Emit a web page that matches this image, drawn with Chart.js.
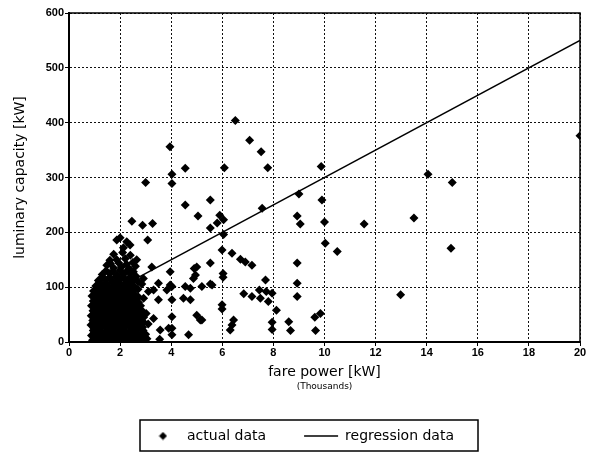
<!DOCTYPE html>
<html><head><meta charset="utf-8">
<script src="https://cdn.jsdelivr.net/npm/chart.js@4.4.0/dist/chart.umd.min.js"></script>
<style>html,body{margin:0;padding:0;background:#fff;} canvas{display:block;}</style>
</head><body>
<canvas id="c" width="596" height="453"></canvas>
<script>
// ---- data ----
const xTicks = [0, 2, 4, 6, 8, 10, 12, 14, 16, 18, 20];
const yTicks = [0, 100, 200, 300, 400, 500, 600];
const xTitle = 'fare power [kW]';
const xSubTitle = '(Thousands)';
const yTitle = 'luminary capacity [kW]';
const seriesNames = ['actual data', 'regression data'];

// dense cluster (fare power in thousands kW, capacity kW)
const clusterPoints = [
  [0.92,3],[1.15,5],[1.38,2],[1.62,4],[1.85,3],[2.1,5],[2.33,2],[2.58,4],[2.82,3],[3.05,6],[3.55,5],
  [1.03,8],[1.27,7],[1.5,9],[1.74,8],[1.97,7],[2.22,9],[2.45,8],[2.7,7],[2.95,9],
  [0.88,12],[1.1,14],[1.33,11],[1.57,13],[1.8,12],[2.03,14],[2.27,11],[2.52,13],[2.76,12],[3.0,14],
  [0.99,17],[1.22,16],[1.46,18],[1.7,17],[1.93,16],[2.17,18],[2.41,17],[2.65,16],[2.88,18],
  [0.95,21],[1.2,22],[1.44,20],[1.68,23],[1.92,21],[2.16,22],[2.4,20],[2.64,23],[2.9,21],
  [0.97,26],[1.21,25],[1.45,27],[1.69,26],[1.93,25],[2.17,27],[2.41,26],[2.64,25],[2.88,27],
  [0.86,31],[1.08,30],[1.3,32],[1.54,30],[1.78,31],[2.02,29],[2.26,32],[2.5,30],[2.74,31],[3.1,33],
  [0.98,35],[1.22,34],[1.46,36],[1.7,35],[1.94,34],[2.18,36],[2.42,35],[2.66,34],[2.92,36],
  [0.93,39],[1.16,40],[1.4,38],[1.64,41],[1.88,39],[2.12,40],[2.36,38],[2.6,41],[2.84,39],
  [0.98,44],[1.22,43],[1.46,45],[1.7,44],[1.94,43],[2.18,45],[2.42,44],[2.66,43],[2.92,45],
  [0.87,48],[1.1,49],[1.34,47],[1.58,50],[1.82,48],[2.06,49],[2.3,47],[2.55,50],[2.78,48],[3.02,52],
  [1.0,53],[1.24,52],[1.48,54],[1.72,53],[1.96,52],[2.2,54],[2.44,53],[2.68,52],
  [0.94,57],[1.18,58],[1.42,56],[1.66,59],[1.9,57],[2.14,58],[2.38,56],[2.62,59],[2.86,57],
  [1.0,62],[1.24,61],[1.48,63],[1.72,62],[1.96,61],[2.2,63],[2.44,62],[2.7,61],
  [0.88,66],[1.12,67],[1.36,65],[1.6,68],[1.84,66],[2.08,67],[2.32,65],[2.56,68],[2.8,66],
  [1.02,71],[1.26,70],[1.5,72],[1.74,71],[1.98,70],[2.22,72],[2.46,71],[2.72,72],
  [0.95,75],[1.19,76],[1.43,74],[1.67,77],[1.91,75],[2.15,76],[2.39,74],[2.63,77],[2.92,80],
  [1.02,80],[1.26,79],[1.5,81],[1.74,80],[1.98,79],[2.22,81],[2.46,80],[2.72,82],
  [0.9,84],[1.14,85],[1.38,83],[1.62,86],[1.86,84],[2.1,85],[2.34,83],[2.58,86],
  [1.02,89],[1.26,88],[1.5,90],[1.74,89],[1.98,88],[2.22,90],[2.46,89],
  [0.96,93],[1.2,94],[1.44,92],[1.68,95],[1.92,93],[2.16,94],[2.4,92],[2.7,96],
  [1.1,98],[1.34,97],[1.58,99],[1.82,98],[2.06,97],[2.3,99],[2.58,97],
  [1.05,102],[1.3,104],[1.55,101],[1.8,103],[2.05,102],[2.3,104],[2.55,101],[2.85,106],
  [1.2,108],[1.45,107],[1.7,109],[1.95,108],[2.2,107],[2.45,109],[2.7,110],
  [1.15,112],[1.42,114],[1.7,111],[1.97,113],[2.24,112],[2.5,114],
  [1.3,118],[1.57,117],[1.83,119],[2.1,118],[2.36,117],[2.62,120],
  [1.3,123],[1.6,125],[1.88,122],[2.15,124],[2.42,126],
  [1.45,130],[1.72,129],[2.0,131],[2.28,130],[2.52,128],
  [1.48,140],[1.75,135],[2.05,137],[2.35,134],[2.6,138],
  [1.62,143],[1.95,144],[2.25,142],[2.5,145],
  [1.6,149],[1.87,150],[2.2,152],[2.65,150],
  [1.75,160],[2.1,163],[2.4,158]
];
// scattered points outside the cluster
const outerPoints = [
  [1.87,186],[2.0,190],[2.26,183],[2.39,177],[2.13,172],
  [2.46,220],[2.88,213],[3.27,216],[3.08,186],[3.0,291],
  [3.95,356],[4.03,306],[4.03,289],[4.55,317],[4.55,250],
  [5.53,259],[5.05,230],[5.9,231],[6.05,223],[5.8,217],[5.53,208],[6.08,318],
  [6.51,404],[7.07,368],[7.52,347],[7.78,318],[9.87,320],[9.0,270],[9.9,259],
  [7.56,244],[8.93,230],[9.05,215],[10.0,219],[11.55,215],[13.5,226],
  [14.05,306],[15.0,291],[10.03,180],[10.5,165],[14.95,171],[20.0,376],[12.98,86],
  [6.05,196],[5.99,168],[6.38,162],[6.71,151],[6.9,146],[7.16,140],[5.53,144],[5.0,137],
  [8.93,144],[6.03,125],[6.03,118],[7.69,113],[5.53,106],[5.2,101],[8.93,107],
  [6.84,88],[7.45,95],[7.72,92],[7.95,89],[7.49,80],[7.8,74],[8.93,83],[7.16,83],
  [5.99,68],[5.99,60],[8.12,58],[5.2,40],[6.44,40],[6.38,31],[6.31,22],
  [7.95,36],[7.95,23],[8.6,37],[8.67,21],[9.62,45],[9.84,52],[9.65,21],
  [3.96,128],[4.87,116],[4.9,134],[4.95,122],[3.31,95],[3.83,95],[4.03,101],[4.55,101],[4.75,98],
  [3.5,77],[4.03,77],[4.48,80],[4.75,77],[3.31,43],[4.03,46],[5.0,49],[5.14,40],
  [3.57,22],[4.03,25],[4.03,13],[4.68,13],[2.91,116],[3.24,137],[3.5,107],[3.96,104],
  [3.11,92],[3.9,25],[5.6,104]
];
const regressionX = [1, 20];
const regressionY = [75, 550];

// ---- chart ----
const FONT = '"DejaVu Sans", "Liberation Sans", Arial, sans-serif';
Chart.defaults.color = '#000';
Chart.defaults.font.family = FONT;

const toXY = p => ({x: p[0], y: p[1]});
const actualData = clusterPoints.concat(outerPoints).map(toXY);
const regressionData = regressionX.map((x, i) => ({x, y: regressionY[i]}));

const diamond = document.createElement('canvas');
diamond.width = 9; diamond.height = 9;
(function(){
  const c = diamond.getContext('2d');
  c.fillStyle = '#000';
  c.beginPath(); c.moveTo(4.5,0.5); c.lineTo(8.5,4.5); c.lineTo(4.5,8.5); c.lineTo(0.5,4.5); c.closePath(); c.fill();
})();

const extras = {
  id: 'extras',
  afterLayout(chart) {
    const lg = chart.legend;
    if (lg) { lg.left += 10; lg.right += 10; }
  },
  afterDraw(chart) {
    const {ctx, chartArea: a} = chart;
    ctx.save();
    ctx.strokeStyle = '#000';
    ctx.lineWidth = 1.5;
    ctx.beginPath();
    ctx.moveTo(a.left, a.top); ctx.lineTo(a.right, a.top); ctx.lineTo(a.right, a.bottom);
    ctx.stroke();
    ctx.fillStyle = '#000';
    ctx.font = '9px ' + FONT;
    ctx.textAlign = 'center'; ctx.textBaseline = 'middle';
    ctx.fillText(xSubTitle, (a.left + a.right) / 2, 387);
    const lg = chart.legend;
    const cx = (lg.left + lg.right) / 2;
    ctx.lineWidth = 1.5;
    ctx.strokeRect(cx - 160, 420, 338, 31);
    ctx.restore();
  }
};

new Chart(document.getElementById('c'), {
  type: 'scatter',
  data: {
    datasets: [
      {
        label: seriesNames[0],
        data: actualData,
        pointStyle: 'rectRot',
        pointRadius: 4.5,
        pointBackgroundColor: '#000',
        pointBorderColor: '#000',
        pointBorderWidth: 0,
        backgroundColor: '#000',
        borderColor: '#000',
        showLine: false
      },
      {
        type: 'line',
        label: seriesNames[1],
        data: regressionData,
        borderColor: '#000',
        backgroundColor: '#000',
        borderWidth: 1.5,
        pointRadius: 0,
        pointStyle: 'line',
        fill: false,
        tension: 0
      }
    ]
  },
  options: {
    responsive: false,
    animation: false,
    devicePixelRatio: 1,
    layout: {padding: {top: 13, right: 16, bottom: 0, left: 0}},
    scales: {
      x: {
        type: 'linear', min: 0, max: 20,
        afterBuildTicks: s => { s.ticks = xTicks.map(v => ({value: v})); },
        afterFit: s => { s.height = 49; },
        ticks: {padding: 0, maxRotation: 0, font: {family: '"Liberation Sans", Arial, sans-serif', size: 11, weight: 'bold'}, color: '#000'},
        grid: {color: '#111', lineWidth: 1, tickLength: 4, tickColor: '#000'},
        border: {display: true, color: '#000', width: 2, dash: [2, 2]},
        title: {display: true, text: xTitle, font: {size: 14, family: FONT}, color: '#000', padding: {top: 0, bottom: 10}}
      },
      y: {
        type: 'linear', min: 0, max: 600,
        afterBuildTicks: s => { s.ticks = yTicks.map(v => ({value: v})); },
        afterFit: s => { s.width = 69; },
        ticks: {padding: 1, font: {family: '"Liberation Sans", Arial, sans-serif', size: 11, weight: 'bold'}, color: '#000'},
        grid: {color: '#111', lineWidth: 1, tickLength: 4, tickColor: '#000'},
        border: {display: true, color: '#000', width: 2, dash: [2, 2]},
        title: {display: true, text: yTitle, font: {size: 14, family: FONT}, color: '#000', padding: {top: 12, bottom: 0}}
      }
    },
    plugins: {
      legend: {
        display: true,
        position: 'bottom',
        labels: {
          usePointStyle: true,
          pointStyleWidth: 34,
          boxHeight: 8,
          padding: 38,
          color: '#000',
          font: {size: 14, family: FONT},
          generateLabels(chart) {
            const items = Chart.defaults.plugins.legend.labels.generateLabels(chart);
            if (items[0]) items[0].pointStyle = diamond;
            return items;
          }
        }
      },
      tooltip: {enabled: false}
    }
  },
  plugins: [extras]
});
</script>
</body></html>
